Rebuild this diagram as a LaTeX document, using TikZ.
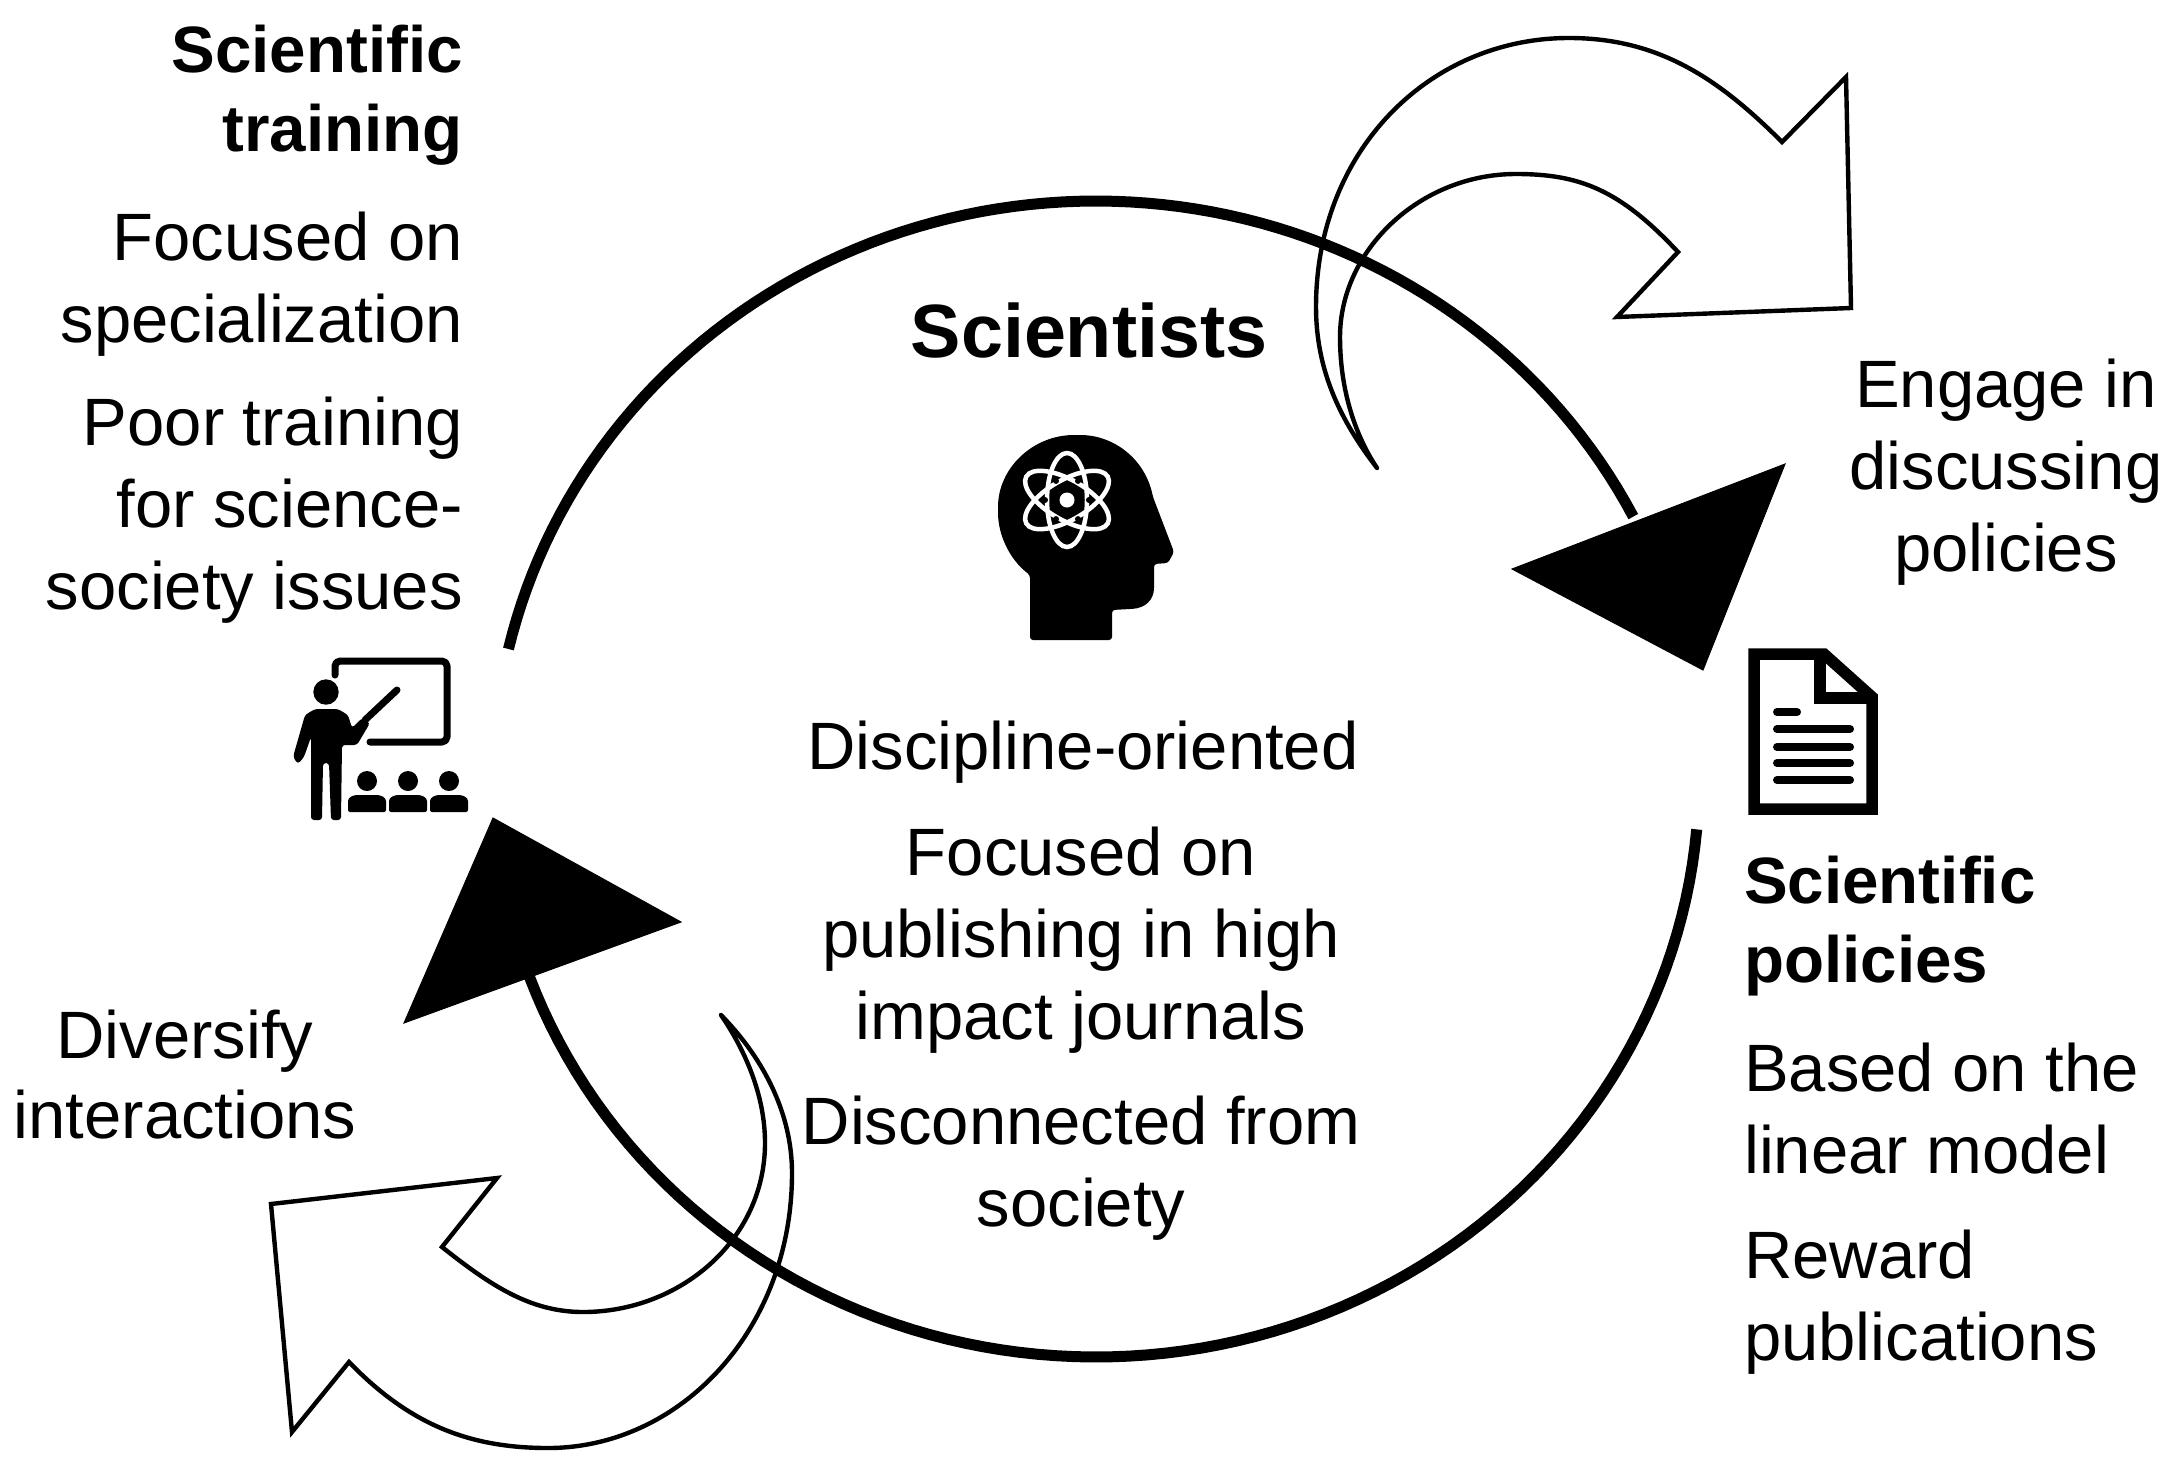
\documentclass[tikz,border=0pt]{standalone}
\usepackage{fontspec}
\setmainfont{Liberation Sans}
\tikzset{
  ring/.style={line width=11pt,black},
  swoop/.style={line width=4.4pt,black,line join=miter,line cap=round},
  headtip/.style={fill=black,draw=black,line width=1pt,line join=miter},
  txt/.style={inner sep=0pt,font=\fontsize{67}{82}\selectfont},
  bold/.style={inner sep=0pt,font=\fontsize{65.5}{79}\selectfont\bfseries},
  atom/.style={draw=white,line width=4.5pt},
  docline/.style={line width=8pt,line cap=round,black}
}
\begin{document}
\begin{tikzpicture}[x=1pt,y=-1pt]
\useasboundingbox (0,0) rectangle (2175,1459);
% ring
\draw[ring] plot[domain=167:27,samples=90] ({1096+603*cos(\x)},{779-578*sin(\x)});
\draw[ring] plot[domain=-5:-160,samples=90] ({1096+603*cos(\x)},{779-578*sin(\x)});
\fill[headtip] (1785,464) -- (1512,569) -- (1703,670) -- cycle;
\fill[headtip] (493,818) -- (681,922) -- (404,1023) -- cycle;
% swoop arrows
\draw[swoop] (1377,468) .. controls (1340,420) and (1316,370) .. (1316,307)
  .. controls (1316,150) and (1430,38) .. (1569,38)
  .. controls (1660,38) and (1720,80) .. (1782,142)
  -- (1846,77) -- (1851,308) -- (1617,317) -- (1678,252)
  .. controls (1620,190) and (1580,174) .. (1516,174)
  .. controls (1420,174) and (1340,250) .. (1340,337)
  .. controls (1340,390) and (1355,435) .. (1377,468);
\draw[swoop] (721,1015) .. controls (765,1060) and (792,1115) .. (792,1173)
  .. controls (792,1330) and (680,1448) .. (548,1448)
  .. controls (470,1448) and (410,1425) .. (349,1362)
  -- (292,1432) -- (271,1204) -- (497,1178) -- (442,1247)
  .. controls (490,1285) and (530,1312) .. (583,1312)
  .. controls (680,1312) and (765,1240) .. (765,1143)
  .. controls (765,1095) and (745,1050) .. (721,1015);
% head icon
\fill[black,rounded corners=3pt] (1030,640) -- (1030,575)
  .. controls (1010,560) and (998,535) .. (998,510)
  .. controls (998,468) and (1033,435) .. (1077,435)
  .. controls (1115,435) and (1145,460) .. (1153,497)
  -- (1174,552) -- (1168,563) -- (1154,564) -- (1154,585)
  .. controls (1154,600) and (1145,608) .. (1130,609)
  -- (1112,610) -- (1112,640) -- cycle;
\draw[atom] (1067,500) ellipse [x radius=20,y radius=47];
\draw[atom,rotate around={60:(1067,500)}] (1067,500) ellipse [x radius=20,y radius=47];
\draw[atom,rotate around={-60:(1067,500)}] (1067,500) ellipse [x radius=20,y radius=47];
\fill[black] (1067,500) circle [radius=15];
\fill[white] (1067,500) circle [radius=7.5];
\foreach \a in {0,60,...,300} \fill[black] (1067,500) ++({22*cos(\a)},{22*sin(\a)}) circle [radius=3];
% teacher icon
\draw[line width=7pt,line cap=round,line join=round,rounded corners=5pt] (335,675) -- (335,661) -- (447,661) -- (447,742) -- (370,742);
\fill[black] (326,692) circle [radius=12.7];
\fill[black,rounded corners=3pt] (305,715) -- (293,757) -- (298,764) -- (304,757) -- (311,737) -- (311,820) -- (322,820) -- (323,763) -- (329,763) -- (331,820) -- (341,820) -- (342,745) -- (350,745) -- (357,745) -- (370,723) -- (362,718) -- (352,728) -- (348,715) -- (338,709) -- (315,709) -- cycle;
\draw[line width=7pt,line cap=round] (365,720) -- (397,690);
\foreach \c in {367,408,449} {
  \fill[black] (\c,781) circle [radius=10];
  \fill[black,rounded corners=2pt] ({\c-19},812) -- ({\c-19},803) .. controls ({\c-19},797) and ({\c-13},795) .. ({\c-8},795) -- ({\c+8},795) .. controls ({\c+13},795) and ({\c+19},797) .. ({\c+19},803) -- ({\c+19},812) -- cycle;
}
% document icon
\draw[line width=11.5pt,line join=miter] (1754,654) -- (1824,654) -- (1872,697) -- (1872,809) -- (1754,809) -- cycle;
\draw[line width=12pt,line join=miter] (1820,654) -- (1820,698) -- (1872,698);
\draw[docline] (1777,712) -- (1797,712);
\foreach \y in {729,747,763,780} \draw[docline] (1777,\y) -- (1850,\y);
% texts
\node[bold,anchor=base east,align=right] (train) at (463,151) {Scientific\\training};
\node[txt,anchor=base east,align=right] (train1) at (463,342) {Focused on\\specialization};
\node[txt,anchor=base east,align=right] (train2) at (463,609) {Poor training\\for science-\\society issues};
\node[inner sep=0pt,font=\fontsize{75.5}{90}\selectfont\bfseries,anchor=base] (sci) at (1089,357) {Scientists};
\node[txt,anchor=base] (c1) at (1083,769) {Discipline-oriented};
\node[txt,anchor=base,align=center] (c2) at (1081,1039) {Focused on\\publishing in high\\impact journals};
\node[txt,anchor=base,align=center] (c3) at (1081,1226) {Disconnected from\\society};
\node[txt,anchor=base,align=center] (eng) at (2006,571) {Engage in\\discussing\\policies};
\node[bold,anchor=base west,align=left] (pol) at (1744,982) {Scientific\\policies};
\node[txt,anchor=base west,align=left] (pol1) at (1744,1173) {Based on the\\linear model};
\node[txt,anchor=base west,align=left] (pol2) at (1744,1360) {Reward\\publications};
\node[txt,anchor=base,align=center] (div) at (185,1138) {Diversify\\[-2pt]interactions};
\end{tikzpicture}
\end{document}
